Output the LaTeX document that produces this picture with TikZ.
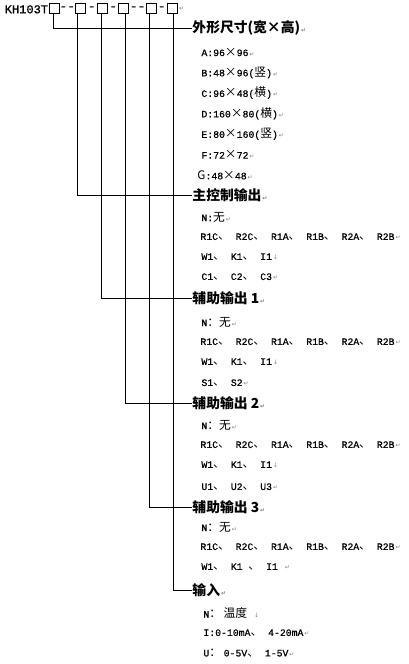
\documentclass[tikz,border=0pt]{standalone}
\usepackage{fontspec}
\usepackage{xcolor}
\setmainfont[FakeBold=0.8]{Liberation Mono}
\newfontfamily\cjk[Scale=1.2]{Noto Sans CJK SC}
\newfontfamily\symfont{DejaVu Sans}
\newcommand\zh[1]{{\cjk #1}}
\newcommand\pmk{{\symfont\fontsize{6}{6}\selectfont\color{gray}\,↵}}
\newcommand\lbk{{\symfont\fontsize{6}{6}\selectfont\color{gray}\,↓}}

\begin{document}
\begin{tikzpicture}[x=1pt, y=-1pt, line width=0.9pt,
  box/.style={draw, line width=0.9pt, minimum size=10pt, inner sep=0pt},
  dashtext/.style={inner sep=0pt, font=\fontsize{13}{13}\selectfont},
  head/.style={anchor=west, inner sep=0pt, font=\fontsize{11.5}{14}\selectfont\bfseries},
  item/.style={anchor=west, inner sep=0pt, font=\fontsize{9.8}{12}\selectfont}]
\useasboundingbox (0,0) rectangle (408,664);

\node(code)[anchor=base east, inner sep=0pt, font=\fontsize{12}{12}\selectfont] at (48.5,13.3) {KH103T};
\node(b1)[box] at (54,8.3) {};
\node(b2)[box] at (80.7,8.3) {};
\node(b3)[box] at (102.7,8.3) {};
\node(b4)[box] at (123.7,8.3) {};
\node(b5)[box] at (151.2,8.3) {};
\node(b6)[box] at (172.2,8.3) {};
\node(d1)[dashtext] at (67.2,8.3) {-{}-};
\node(d2)[dashtext] at (91.7,8.3) {-};
\node(d3)[dashtext] at (113.2,8.3) {-};
\node(d4)[dashtext] at (137.6,8.3) {-{}-};
\node(d5)[dashtext] at (161.7,8.3) {-};
\node(endmark)[anchor=west, inner sep=0pt] at (b6.east) {\pmk};

\coordinate (s1) at (53.3,13.3);
\coordinate (s2) at (77.7,13.3);
\coordinate (s3) at (101,13.3);
\coordinate (s4) at (125.7,13.3);
\coordinate (s5) at (149.3,13.3);
\coordinate (s6) at (173.3,13.3);

\node(size)[head] at (192,28) {\zh{外形尺寸(宽×高)}\pmk};
\node(sizeA)[item] at (201,52) {A:96\zh{×}96\pmk};
\node(sizeB)[item] at (201,72.5) {B:48\zh{×}96(\zh{竖})\pmk};
\node(sizeC)[item] at (201,93) {C:96\zh{×}48(\zh{横})\pmk};
\node(sizeD)[item] at (201,113.5) {D:160\zh{×}80(\zh{横})\pmk};
\node(sizeE)[item] at (201,134) {E:80\zh{×}160(\zh{竖})\pmk};
\node(sizeF)[item] at (201,154.5) {F:72\zh{×}72\pmk};
\node(sizeG)[item] at (197,175) {\zh{G}:48\zh{×}48\pmk};

\node(main)[head] at (192,195) {\zh{主控制输出}\pmk};
\node(mainN)[item] at (201,217) {N:\zh{无}\pmk};
\node(mainR)[item] at (200,237) {R1C\zh{、} R2C\zh{、} R1A\zh{、} R1B\zh{、} R2A\zh{、} R2B\pmk};
\node(mainW)[item] at (201,257) {W1\zh{、} K1\zh{、} I1\lbk};
\node(mainC)[item] at (201,277) {C1\zh{、} C2\zh{、} C3\pmk};

\node(auxa)[head] at (192,298) {\zh{辅助输出 1}\pmk};
\node(auxaN)[item] at (201,322) {N\zh{：无}\pmk};
\node(auxaR)[item] at (200,342) {R1C\zh{、} R2C\zh{、} R1A\zh{、} R1B\zh{、} R2A\zh{、} R2B\pmk};
\node(auxaW)[item] at (201,362) {W1\zh{、} K1\zh{、} I1\lbk};
\node(auxaS)[item] at (201,383) {S1\zh{、} S2\pmk};

\node(auxb)[head] at (192,403) {\zh{辅助输出 2}\pmk};
\node(auxbN)[item] at (201,425) {N\zh{：无}\pmk};
\node(auxbR)[item] at (200,445) {R1C\zh{、} R2C\zh{、} R1A\zh{、} R1B\zh{、} R2A\zh{、} R2B\pmk};
\node(auxbW)[item] at (201,465) {W1\zh{、} K1\zh{、} I1\lbk};
\node(auxbU)[item] at (201,487) {U1\zh{、} U2\zh{、} U3\pmk};

\node(auxc)[head] at (192,507) {\zh{辅助输出 3}\pmk};
\node(auxcN)[item] at (201,527) {N\zh{：无}\pmk};
\node(auxcR)[item] at (200,547) {R1C\zh{、} R2C\zh{、} R1A\zh{、} R1B\zh{、} R2A\zh{、} R2B\pmk};
\node(auxcW)[item] at (201,567) {W1\zh{、} K1 \zh{、} I1 \pmk};

\node(input)[head] at (192,590) {\zh{输入}\pmk};
\node(inputN)[item] at (203,613) {N\zh{： 温度} \lbk};
\node(inputI)[item] at (203,633) {I:0-10mA\zh{、} 4-20mA\pmk};
\node(inputU)[item] at (203,653) {U\zh{： }0-5V\zh{、} 1-5V\pmk};

\draw (s1) |- (size.west);
\draw (s2) |- (main.west);
\draw (s3) |- (auxa.west);
\draw (s4) |- (auxb.west);
\draw (s5) |- (auxc.west);
\draw (s6) |- (input.west);
\end{tikzpicture}
\end{document}
